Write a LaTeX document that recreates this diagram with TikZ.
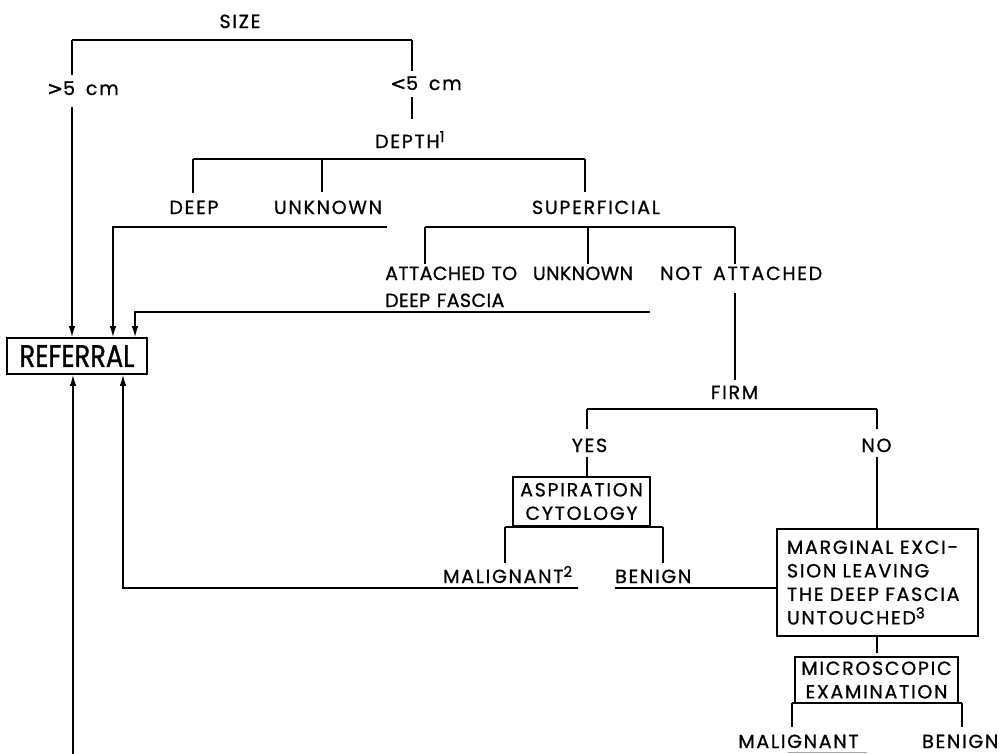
\documentclass[tikz,border=0pt]{standalone}
\usepackage{fontspec}
\usepackage{graphicx}
\setmainfont{Poppins}
\newfontfamily\labfam{Poppins}[LetterSpace=9,WordSpace=1.6,FakeBold=0.9]
\newfontfamily\tightfam{Poppins}[LetterSpace=2,WordSpace=1.2,FakeBold=0.9]
\newfontfamily\reffam{Poppins}[FakeBold=1.2]
\newfontfamily\symfam{DejaVu Sans}[FakeBold=1.5]
\usetikzlibrary{arrows.meta}
\newcommand{\labfont}{\labfam\fontsize{19}{23.5}\selectfont}
\newcommand{\supnum}[1]{\raisebox{6pt}{\fontsize{15}{15}\selectfont #1}}
\tikzset{
  lab/.style={inner sep=0pt, anchor=base, font=\labfont},
  labw/.style={lab, anchor=base west},
  tight/.style={font=\tightfam\fontsize{19}{23.5}\selectfont},
  ln/.style={line width=1.4pt},
  arr/.style={line width=1.4pt, -{Latex[length=11pt,width=6.5pt]}},
  bx/.style={draw, line width=1.6pt, inner sep=0pt, font=\labfont},
}
\begin{document}
\begin{tikzpicture}[x=1pt,y=-1pt]
\useasboundingbox (0,0) rectangle (1006,753);
% ---------- nodes ----------
\node[lab] (size) at (240,28) {SIZE};
\node[labw] (gt) at (47,95) {{\symfam >}5 cm};
\node[labw] (lt) at (390,90) {{\symfam <}5 cm};
\node[labw] (depth) at (375,148) {DEPTH\supnum{1}};
\node[lab] (deep) at (194,214) {DEEP};
\node[lab] (unk1) at (328,214) {UNKNOWN};
\node[lab] (sup) at (596,214) {SUPERFICIAL};
\node[labw, tight] (att1) at (385,280) {ATTACHED TO};
\node[labw, tight] (att2) at (385,307) {DEEP FASCIA};
\node[lab, tight] (unk2) at (583,280) {UNKNOWN};
\node[labw] (nat) at (660,280) {NOT ATTACHED};
\node[bx, minimum width=140pt, minimum height=36pt] (ref) at (77,356)
  {\scalebox{0.83}[1]{\reffam\fontsize{31}{31}\selectfont REFERRAL}};
\node[lab] (firm) at (734.5,399) {FIRM};
\node[lab] (yes) at (589.5,452) {YES};
\node[lab] (no) at (876.5,452) {NO};
\node[bx, minimum width=137pt, minimum height=49pt, align=center] (asp) at (581.5,501.5)
  {ASPIRATION\\CYTOLOGY};
\node[labw] (mal2) at (443,583) {MALIGNANT\supnum{2}};
\node[labw] (ben1) at (615,583) {BENIGN};
\node[bx, text width=181pt, inner xsep=10pt, minimum height=107pt, align=left] (marg) at (877.5,582.5)
  {MARGINAL EXCI-\\SION LEAVING\\THE DEEP FASCIA\\UNTOUCHED\supnum{3}};
\node[bx, minimum width=163pt, minimum height=46pt, align=center] (mic) at (876.5,680)
  {MICROSCOPIC\\EXAMINATION};
\node[lab] (mal3) at (798.5,748) {MALIGNANT};
\node[labw] (ben3) at (922,748) {BENIGN};
% ---------- size ----------
\coordinate (sL) at (72,40);
\coordinate (sR) at (412,40);
\draw[ln] (sL) -- (sR);
\draw[ln, shorten >=6pt] (sL) -- (sL |- gt.north);
\draw[arr, shorten <=12pt] (sL |- gt.south) -- (sL |- ref.north);
\draw[ln, shorten >=5pt] (sR) -- (sR |- lt.north);
\draw[ln, shorten <=7pt, shorten >=12pt] (sR |- lt.south) -- (sR |- depth.north);
% ---------- depth ----------
\coordinate (dL) at (193,159);
\coordinate (dM) at (322,159);
\coordinate (dR) at (585,159);
\draw[ln] (dL) -- (dR);
\draw[ln, shorten >=8pt] (dL) -- (dL |- deep.north);
\draw[ln, shorten >=8pt] (dM) -- (dM |- unk1.north);
\draw[ln, shorten >=8pt] (dR) -- (dR |- sup.north);
\coordinate (rU) at (387,227);
\coordinate (rUc) at (113,227);
\draw[arr] (rU) -- (rUc) -- (rUc |- ref.north);
% ---------- superficial ----------
\coordinate (pL) at (425,227);
\coordinate (pM) at (588,227);
\coordinate (pR) at (735,227);
\draw[ln] (pL) -- (pR);
\draw[ln, shorten >=2pt] (pL) -- (pL |- att1.north);
\draw[ln, shorten >=2pt] (pM) -- (pM |- unk2.north);
\draw[ln, shorten >=2pt] (pR) -- (pR |- nat.north);
\coordinate (aE) at (650,312);
\coordinate (aC) at (135,312);
\draw[arr] (aE) -- (aC) -- (aC |- ref.north);
\draw[ln, shorten <=13pt, shorten >=6pt] (nat.south -| pR) -- (pR |- firm.north);
% ---------- firm ----------
\coordinate (fL) at (587,409);
\coordinate (fR) at (877,409);
\draw[ln] (fL) -- (fR);
\draw[ln, shorten >=9pt] (fL) -- (fL |- yes.north);
\draw[ln, shorten >=9pt] (fR) -- (fR |- no.north);
\draw[ln, shorten <=5pt] (yes.south -| fL) -- (fL |- asp.north);
\draw[ln, shorten <=5pt] (no.south -| fR) -- (fR |- marg.north);
% ---------- aspiration ----------
\coordinate (cL) at (505,527);
\coordinate (cR) at (663,527);
\draw[ln] (cL) -- (cR);
\draw[ln, shorten >=20pt] (cL) -- (cL |- mal2.base);
\draw[ln, shorten >=20pt] (cR) -- (cR |- ben1.base);
\coordinate (m2E) at (578,588);
\coordinate (m2C) at (123,588);
\draw[arr] (m2E) -- (m2C) -- (m2C |- ref.south);
\coordinate (b1W) at (615,588);
\draw[ln] (b1W) -- (b1W -| marg.west);
% ---------- microscopic ----------
\draw[ln, shorten >=3pt] (marg.south -| fR) -- (fR |- mic.north);
\coordinate (eL) at (792,703);
\coordinate (eR) at (962,703);
\draw[ln] (eL) -- (eR);
\draw[ln, shorten >=21pt] (eL) -- (eL |- mal3.base);
\draw[ln, shorten >=21pt] (eR) -- (eR |- ben3.base);
\coordinate (m3E) at (867,752);
\coordinate (m3W) at (788,752);
\draw[line width=1pt, black!35] (m3E) -- (m3W);
\coordinate (bot) at (73,760);
\draw[arr] (bot) -- (bot |- ref.south);
\end{tikzpicture}
\end{document}
